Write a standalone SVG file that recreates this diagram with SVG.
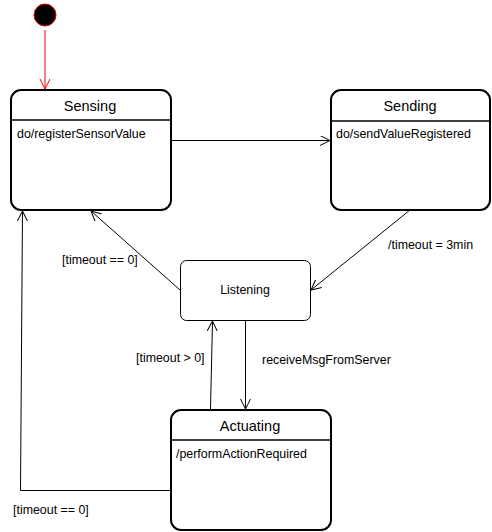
<svg xmlns="http://www.w3.org/2000/svg" width="492" height="532" viewBox="0 0 492 532">
<defs>
<style>
.st{fill:#fff;stroke:#000;stroke-width:2}
.hl{stroke:#000;stroke-width:1.6}
.ln{fill:none;stroke:#000;stroke-width:1}
.t{font-family:"Liberation Sans",Arial,sans-serif;font-size:12.4px;fill:#000}
.h{font-family:"Liberation Sans",Arial,sans-serif;font-size:14.5px;fill:#000;text-anchor:middle}
</style>
<marker id="a" markerWidth="12" markerHeight="12" refX="10" refY="5" orient="auto" markerUnits="userSpaceOnUse">
<path d="M0,0 L10,5 L0,10" fill="none" stroke="#000" stroke-width="1"/>
</marker>
<marker id="ar" markerWidth="12" markerHeight="12" refX="10" refY="5" orient="auto" markerUnits="userSpaceOnUse">
<path d="M0,0 L10,5 L0,10" fill="none" stroke="#e00" stroke-width="1"/>
</marker>
</defs>
<rect width="492" height="532" fill="#fff"/>
<g id="start">
<circle cx="45" cy="15" r="11" fill="#000" stroke="#e00" stroke-width="1"/>
</g>
<g id="sensing">
<rect class="st" x="11" y="90" width="160" height="120" rx="10"/>
<line class="hl" x1="11" y1="120" x2="171" y2="120"/>
<text class="h" x="90" y="111">Sensing</text>
<text class="t" x="17" y="138">do/registerSensorValue</text>
</g>
<g id="sending">
<rect class="st" x="331" y="90" width="159" height="120" rx="10"/>
<line class="hl" x1="331" y1="121" x2="490" y2="121"/>
<text class="h" x="410" y="111">Sending</text>
<text class="t" x="336" y="138">do/sendValueRegistered</text>
</g>
<g id="listening">
<rect fill="#fff" stroke="#000" stroke-width="1" x="180.5" y="260.5" width="130" height="60" rx="6"/>
<text class="t" x="245" y="294" text-anchor="middle">Listening</text>
</g>
<g id="actuating">
<rect class="st" x="171" y="410" width="160" height="120" rx="10"/>
<line class="hl" x1="171" y1="440" x2="331" y2="440"/>
<text class="h" x="250" y="431">Actuating</text>
<text class="t" x="176" y="458">/performActionRequired</text>
</g>
<g id="connectors">
<line x1="45" y1="30" x2="45" y2="89" stroke="#e00" stroke-width="1" marker-end="url(#ar)"/>
<line class="ln" x1="171" y1="140.5" x2="330" y2="140.5" marker-end="url(#a)"/>
<line class="ln" x1="410" y1="210" x2="311" y2="290" marker-end="url(#a)"/>
<line class="ln" x1="180" y1="290" x2="91" y2="211" marker-end="url(#a)"/>
<line class="ln" x1="245.5" y1="321" x2="245.5" y2="409" marker-end="url(#a)"/>
<line class="ln" x1="210.5" y1="409" x2="212.5" y2="321" marker-end="url(#a)"/>
<polyline class="ln" points="170,490.5 20.5,490.5 22.5,211" marker-end="url(#a)"/>
<text class="t" x="388" y="249">/timeout = 3min</text>
<text class="t" x="62" y="264">[timeout == 0]</text>
<text class="t" x="136" y="362">[timeout &gt; 0]</text>
<text class="t" x="262" y="364">receiveMsgFromServer</text>
<text class="t" x="13" y="514">[timeout == 0]</text>
</g>
</svg>
